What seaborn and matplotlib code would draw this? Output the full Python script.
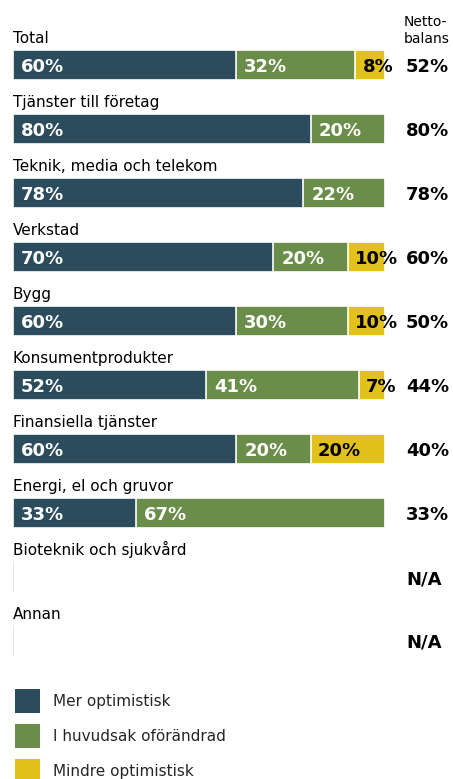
import numpy as np
import pandas as pd
import matplotlib
matplotlib.use("Agg")
import matplotlib.pyplot as plt
from matplotlib.patches import Patch
import seaborn as sns

sns.set_style("white")
plt.rcParams["font.family"] = ["DejaVu Sans"]

categories = ["Total", "Tjänster till företag", "Teknik, media och telekom", "Verkstad",
              "Bygg", "Konsumentprodukter", "Finansiella tjänster", "Energi, el och gruvor",
              "Bioteknik och sjukvård", "Annan"]
mer = [60, 80, 78, 70, 60, 52, 60, 33, np.nan, np.nan]
oforandrad = [32, 20, 22, 20, 30, 41, 20, 67, np.nan, np.nan]
mindre = [8, 0, 0, 10, 10, 7, 20, 0, np.nan, np.nan]
netto = ["52%", "80%", "78%", "60%", "50%", "44%", "40%", "33%", "N/A", "N/A"]
series_names = ["Mer optimistisk", "I huvudsak oförändrad", "Mindre optimistisk"]
colors = ["#2B4C5C", "#6A8E4A", "#E2C11A"]

df = pd.DataFrame({"cat": categories, "mer": mer, "of": oforandrad, "mi": mindre})
df["c1"] = df["mer"]
df["c2"] = df["mer"] + df["of"]
df["c3"] = df["mer"] + df["of"] + df["mi"]
df["empty"] = np.where(df["mer"].isna(), 0.0, np.nan)

W, H = 453, 779
fig = plt.figure(figsize=(W / 100, H / 100), dpi=100)
ax = fig.add_axes([13 / W, 0, 372 / W, 1])

bw = 30 / 64
for col, c in zip(["c3", "c2", "c1"], colors[::-1]):
    sns.barplot(data=df, x=col, y="cat", order=categories, orient="h", color=c,
                width=bw, edgecolor="white", linewidth=1.2, saturation=1, ax=ax)
sns.barplot(data=df, x="empty", y="cat", order=categories, orient="h", color="white",
            width=bw, edgecolor="#e6e6e6", linewidth=0.8, saturation=1, ax=ax)

ax.set_xlim(0, 100)
ax.set_ylim((H - 65) / 64, -65 / 64)
ax.axis("off")

off = 8 / 372 * 100
netx = (406 - 13) / 372 * 100
lab_fs = 11
for i, cat in enumerate(categories):
    ax.text(0, i - 0.234 - 7 / 64, cat, ha="left", va="baseline", fontsize=lab_fs,
            color="black", clip_on=False)
    start = 0
    for v, txtc in zip([mer[i], oforandrad[i], mindre[i]], ["white", "white", "black"]):
        if not np.isnan(v) and v > 0:
            ax.text(start + off * (0.9 if txtc == "black" else 1.0), i, f"{v:.0f}%",
                    ha="left", va="center_baseline", fontsize=13, fontweight="bold",
                    color=txtc, clip_on=False)
            start += v
    ax.text(netx, i, netto[i], ha="left", va="center_baseline", fontsize=13,
            fontweight="bold", color="black", clip_on=False)

hdr_x = (404 - 13) / 372 * 100
ax.text(hdr_x, (26 - 65) / 64, "Netto-", ha="left", va="baseline", fontsize=10,
        color="black", clip_on=False)
ax.text(hdr_x, (43 - 65) / 64, "balans", ha="left", va="baseline", fontsize=10,
        color="black", clip_on=False)

fs = 11
px = fs * 100 / 72
# legend handle box height = fs*h - 0.35*fs*(h-0.7); solve for a 24 px square
hh = (24 / px - 0.245) / 0.65
handles = [Patch(facecolor=c, edgecolor="none", label=n) for c, n in zip(colors, series_names)]
fig.legend(handles=handles, loc="upper left", bbox_to_anchor=(15 / W, 1 - 689 / H),
           frameon=False, fontsize=fs, handlelength=25 / px, handleheight=hh,
           handletextpad=13 / px, labelspacing=11 / px, borderpad=0, borderaxespad=0)

fig.savefig("out.png", dpi=100)
